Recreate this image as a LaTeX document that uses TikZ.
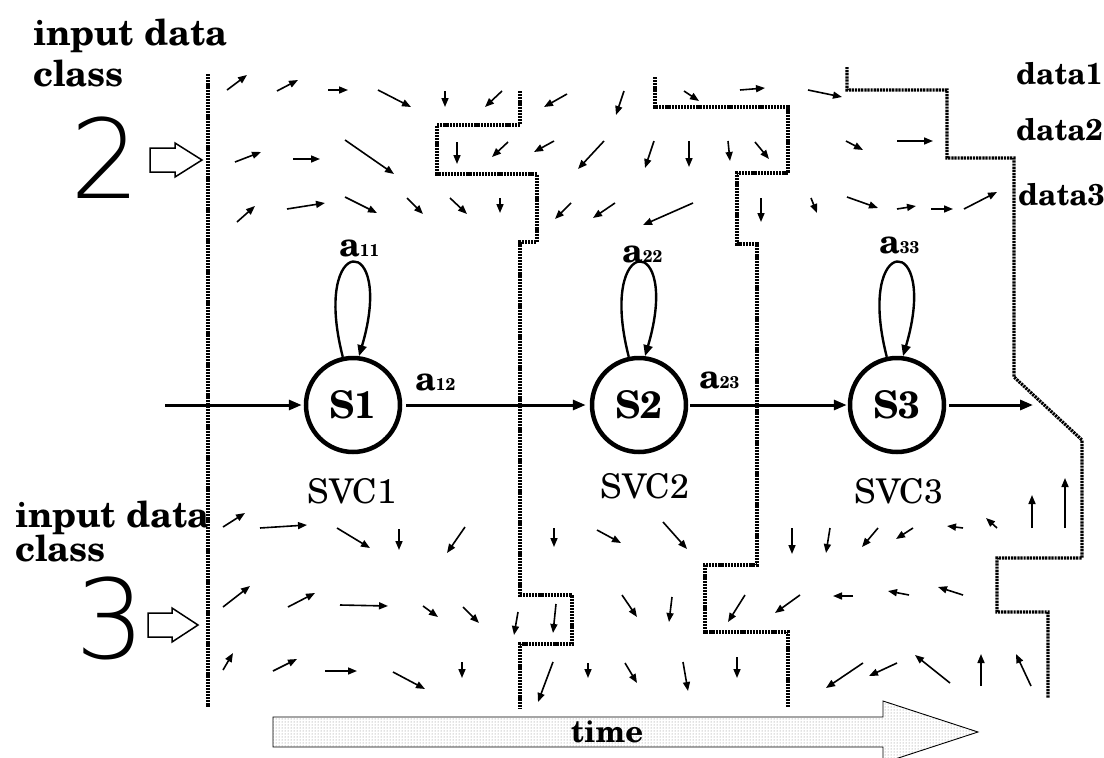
\documentclass[tikz,border=0pt]{standalone}
\usepackage{fontspec}
\IfFontExistsTF{texgyreschola-regular.otf}{\setmainfont{texgyreschola}[Extension=.otf,UprightFont=*-regular,BoldFont=*-bold,ItalicFont=*-italic,BoldItalicFont=*-bolditalic]}{\setmainfont{Liberation Serif}}
\IfFontExistsTF{DejaVuSans-ExtraLight.ttf}{\newfontfamily\thinfont{DejaVuSans-ExtraLight}[Extension=.ttf]}{\newfontfamily\thinfont{DejaVu Sans}}
\usetikzlibrary{arrows.meta,patterns}
\tikzset{
  flow/.style={line width=1.6pt,-{Triangle[length=9pt,width=7pt]}},
  mainarrow/.style={line width=3pt,-{Triangle[length=13pt,width=10pt]}},
  looparrow/.style={line width=2.4pt,-{Triangle[length=11pt,width=9pt]}},
  bound/.style={line width=3.2pt,dash pattern=on 2.2pt off 0.9pt},
  state/.style={circle,draw,line width=4.5pt,minimum size=94pt,inner sep=0pt,font=\fontsize{38}{38}\selectfont\bfseries},
  lbl/.style={inner sep=0pt,font=\fontsize{36}{36}\selectfont\bfseries},
  dlbl/.style={inner sep=0pt,font=\fontsize{30}{30}\selectfont\bfseries},
  svc/.style={inner sep=0pt,font=\fontsize{34}{34}\selectfont},
  bigdigit/.style={inner sep=0pt,font=\fontsize{110}{110}\thinfont},
  hollow/.style={draw,line width=1.5pt,fill=white}
}
\newcommand{\alabel}[2]{{\fontsize{34}{34}\selectfont\bfseries #1}{\fontsize{17}{17}\selectfont\bfseries #2}}
\begin{document}
\begin{tikzpicture}[x=1pt,y=-1pt]
\useasboundingbox (0,0) rectangle (1104,758);
\fill[white] (0,0) rectangle (1104,758);

% boundaries
\draw[bound] (208,74) -- (208,707);
\draw[bound] (520,91) -- (520,125) -- (437,125) -- (437,174) -- (537,174) -- (537,242) -- (520,242) -- (520,595) -- (572,595) -- (572,644) -- (520,644) -- (520,709);
\draw[bound] (655,77) -- (655,107) -- (788,107) -- (788,173) -- (737,173) -- (737,244) -- (757,244) -- (757,565) -- (705,565) -- (705,632) -- (788,632) -- (788,708);
\draw[bound] (847,67) -- (847,90) -- (947,90) -- (947,158) -- (1014,158) -- (1014,377) -- (1082,440) -- (1082,558) -- (997,558) -- (997,612) -- (1048,612) -- (1048,698);

% flow arrows
\foreach \a/\b/\c/\d in {227/90/247/75, 277/91/298/80, 328/90/348/90, 378/90/411/107, 445/91/445/107, 502/91/485/107, 567/94/544/107, 624/91/616/115, 684/91/699/101, 740/90/765/88, 808/90/842/97,
235/162/261/152, 293/159/320/159, 345/140/394/174, 457/142/457/164, 508/142/492/157, 554/141/534/152, 604/141/578/169, 654/141/645/168, 689/141/689/167, 728/141/730/161, 755/142/769/159, 846/141/863/150, 897/141/933/141,
237/222/255/206, 287/209/325/203, 345/197/377/213, 407/198/423/214, 450/198/467/214, 500/198/500/213, 571/203/555/219, 615/203/593/218, 693/203/643/225, 761/198/761/222, 811/198/817/213, 847/197/878/208, 897/209/916/206, 931/209/953/209, 964/209/997/192,
223/527/245/513, 260/528/307/525, 337/528/370/548, 399/529/399/550, 465/527/447/553, 554/528/554/547, 597/530/621/543, 663/522/687/549, 792/528/792/554, 830/528/826/553, 878/528/862/547, 913/528/896/539, 963/528/947/526, 997/528/986/518, 1032/528/1032/495, 1065/528/1065/478,
223/607/250/586, 288/607/315/593, 340/605/388/606, 423/606/438/617, 463/607/479/623, 518/612/514/635, 556/604/553/633, 622/595/637/617, 672/597/669/622, 745/595/728/622, 800/595/775/613, 853/596/833/596, 909/595/888/591, 963/595/938/587,
223/670/233/653, 273/671/297/659, 325/671/357/671, 393/672/425/689, 462/662/462/678, 553/662/538/702, 588/663/588/678, 625/663/637/683, 683/662/688/691, 737/657/737/678, 863/663/826/688, 897/663/869/676, 950/683/915/655, 981/686/981/654, 1031/686/1016/654}
  \draw[flow] (\a,\b) -- (\c,\d);

% left labels
\node[lbl,anchor=base west] (in2a) at (33,45) {input data};
\node[lbl,anchor=base west] (in2b) at (33,86) {class};
\node[lbl,anchor=base west] (in3a) at (15,527) {input data};
\node[lbl,anchor=base west] (in3b) at (15,561) {class};
\node[bigdigit] (two) at (105,158) {2};
\node[bigdigit] (three) at (110,618) {3};
\draw[hollow] (150,148) -- (175,148) -- (175,143) -- (202,160) -- (175,177) -- (175,172) -- (150,172) -- cycle;
\draw[hollow] (148,613) -- (172,613) -- (172,608) -- (198,625) -- (172,642) -- (172,637) -- (148,637) -- cycle;

% data labels
\node[dlbl,anchor=base west] (d1) at (1016,84) {data1};
\node[dlbl,anchor=base west] (d2) at (1016,140) {data2};
\node[dlbl,anchor=base west] (d3) at (1018,205) {data3};

% states
\node[state] (s1) at (353,405) {S1};
\node[state] (s2) at (639,405) {S2};
\node[state] (s3) at (897,405) {S3};
\coordinate (start) at (165,405);
\coordinate (end) at (1033,405);
\draw[mainarrow,shorten >=2pt] (start) -- (s1);
\draw[mainarrow,shorten >=4pt,shorten <=4pt] (s1) -- (s2);
\draw[mainarrow,shorten >=1pt,shorten <=2pt] (s2) -- (s3);
\draw[mainarrow,shorten <=3pt] (s3) -- (end);
\foreach \s in {s1,s2,s3}
  \draw[looparrow] (\s.102) .. controls +(-32,-125) and +(37,-125) .. (\s.83);

\node[inner sep=0pt,anchor=base west] (a11) at (339,256) {\alabel{a}{11}};
\node[inner sep=0pt,anchor=base west] (a22) at (622,262) {\alabel{a}{22}};
\node[inner sep=0pt,anchor=base west] (a33) at (879,253) {\alabel{a}{33}};
\node[inner sep=0pt,anchor=base west] (a12) at (415,390) {\alabel{a}{12}};
\node[inner sep=0pt,anchor=base west] (a23) at (699,388) {\alabel{a}{23}};

\node[svc,anchor=base] (svc1) at (352,503) {SVC1};
\node[svc,anchor=base] (svc2) at (645,498) {SVC2};
\node[svc,anchor=base] (svc3) at (899,503) {SVC3};

% time arrow
\path[draw,line width=0.9pt,pattern=dots,pattern color=gray] (273,717) -- (883,717) -- (883,701) -- (978,732) -- (883,763) -- (883,747) -- (273,747) -- cycle;
\node[inner sep=0pt,anchor=base,font=\fontsize{31}{31}\selectfont\bfseries] (time) at (607,742) {time};
\end{tikzpicture}
\end{document}
